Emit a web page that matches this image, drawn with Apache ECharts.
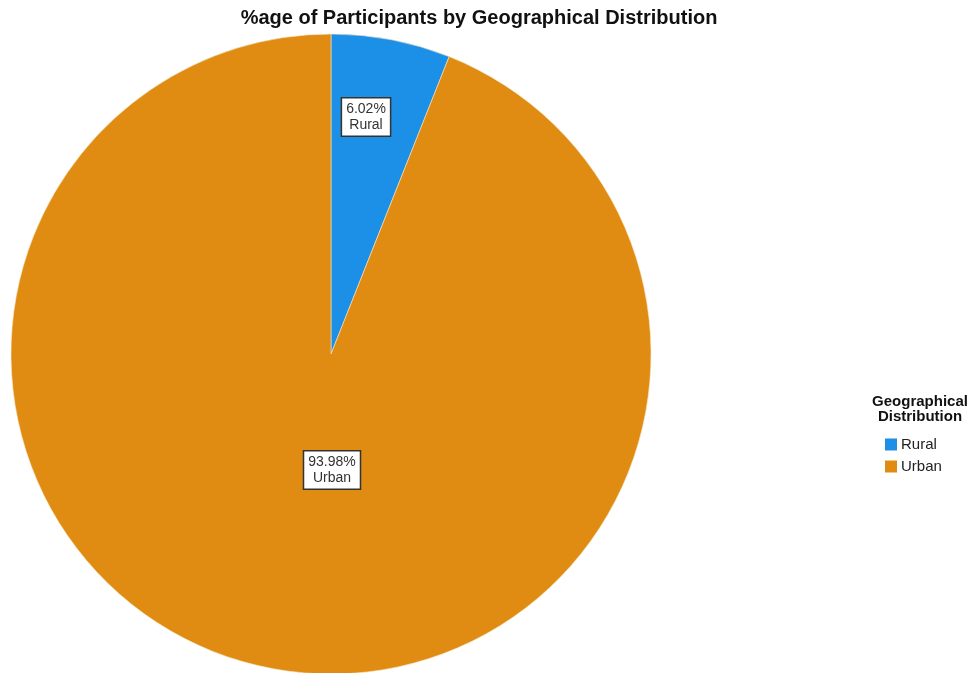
<!DOCTYPE html>
<html>
<head>
	<meta http-equiv="Content-Type" content="text/html;charset=utf-8">
	<title>%age of Participants by Geographical Distribution</title>
	<style>
	  html, body{
		margin: 0;
		padding: 0;
		background: #fff;
	  }
	  #chart{
		width: 971px;
		height: 673px;
	  }
	</style>
</head>
<body>

<div id="chart"></div>

<script src="https://cdn.jsdelivr.net/npm/echarts@6/dist/echarts.min.js"></script>
<script>
	var categories = ['Rural', 'Urban'];
	var percents = [6.02, 93.98];
	var sliceColors = ['#1c8fe6', '#e08b11'];

	// label box spots (SPSS puts them by its own rule, not at mid radius)
	var labelSpots = [[366, 117], [332, 470]];

	var pieData = [];
	for(var i = 0; i < categories.length; i++){
		pieData.push({
			name : categories[i],
			value : percents[i],
			itemStyle : { color : sliceColors[i] }
		});
	}

	var option = {
		backgroundColor : '#fff',
		animation : false,
		title : [
			{
				text : '%age of Participants by Geographical Distribution',
				left : 474,
				top : 3,
				textAlign : 'center',
				textStyle : {
					fontFamily : 'Liberation Sans, Arial',
					fontSize : 20,
					fontWeight : 'bold',
					color : '#111'
				}
			},
			{
				text : 'Geographical\nDistribution',
				left : 915,
				top : 389,
				textAlign : 'center',
				textStyle : {
					fontFamily : 'Liberation Sans, Arial',
					fontSize : 15,
					fontWeight : 'bold',
					lineHeight : 15,
					color : '#111'
				}
			}
		],
		legend : {
			orient : 'vertical',
			left : 880,
			top : 432,
			itemWidth : 12,
			itemHeight : 12,
			itemGap : 7,
			icon : 'rect',
			data : categories,
			itemStyle : { borderWidth : 0 },
			textStyle : {
				fontFamily : 'Liberation Sans, Arial',
				fontSize : 15,
				color : '#222',
				padding : [0, 0, 0, -1]
			}
		},
		series : [
			{
				type : 'pie',
				center : [331, 354],
				radius : 320,
				startAngle : 90,
				clockwise : true,
				silent : true,
				itemStyle : {
					borderColor : '#f6e7c8',
					borderWidth : 0.6
				},
				label : {
					show : true,
					position : 'inside',
					formatter : function(p){
						return p.value.toFixed(2) + '%\n' + p.name;
					},
					fontFamily : 'Liberation Sans, Arial',
					fontSize : 14,
					lineHeight : 16,
					color : '#333',
					backgroundColor : '#fff',
					borderColor : '#333',
					borderWidth : 1.5,
					padding : [3, 4, 2, 4]
				},
				labelLine : { show : false },
				labelLayout : function(params){
					var s = labelSpots[params.dataIndex];
					return { x : s[0], y : s[1], align : 'center', verticalAlign : 'middle' };
				},
				data : pieData
			}
		]
	};

	var myChart = echarts.init(document.getElementById('chart'), null, { renderer : 'canvas' });
	myChart.setOption(option);
</script>
</body>
</html>
